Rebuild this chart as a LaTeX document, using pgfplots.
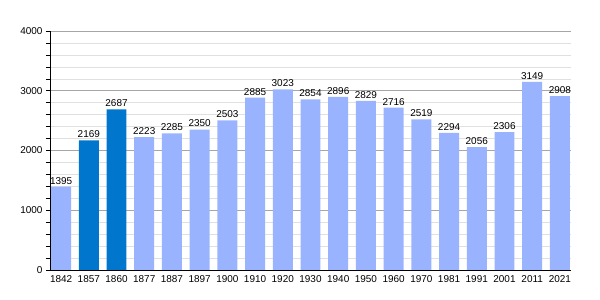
\documentclass[border=0pt]{standalone}
\usepackage{pgfplots}
\pgfplotsset{compat=1.18}
\usepackage{fontspec}
\setmainfont{Liberation Sans}
\definecolor{lightbar}{HTML}{99B3FF}
\definecolor{darkbar}{HTML}{0077CC}
\begin{document}
\begin{tikzpicture}
\path (-50bp,-30bp) rectangle (550bp,270bp);
\begin{axis}[
  scale only axis,
  width=521bp, height=239bp,
  xmin=-0.4, xmax=18.4,
  ymin=0, ymax=4000,
  ytick={0,1000,2000,3000,4000},
  minor y tick num=4,
  xtick={0,...,18},
  xticklabels={1842,1857,1860,1877,1887,1897,1900,1910,1920,1930,1940,1950,1960,1970,1981,1991,2001,2011,2021},
  x tick style={draw=none},
  y tick style={black, line width=0.6pt},
  tick align=outside,
  major tick length=4bp, minor tick length=4bp,
  axis x line*=bottom, axis y line*=left,
  axis line style={-, black, line width=0.8pt},
  ymajorgrids, yminorgrids,
  major grid style={color=black!35, line width=0.6pt},
  minor grid style={color=black!12, line width=0.6pt},
  tick label style={font=\fontsize{10}{12}\selectfont},
  xticklabel style={yshift=2bp},
  /pgf/number format/assume math mode=true,
  /pgf/number format/1000 sep={},
  scaled y ticks=false,
  ybar, bar width=0.72, bar shift=0pt,
  nodes near coords,
  nodes near coords style={font=\fontsize{10}{12}\selectfont, black, /pgf/number format/1000 sep={}, yshift=-1bp},
]
\addplot[fill=lightbar, draw=none] coordinates {
(0,1395) (3,2223) (4,2285) (5,2350) (6,2503) (7,2885) (8,3023) (9,2854) (10,2896) (11,2829) (12,2716) (13,2519) (14,2294) (15,2056) (16,2306) (17,3149) (18,2908)};
\addplot[fill=darkbar, draw=none] coordinates {(1,2169) (2,2687)};
\end{axis}
\end{tikzpicture}
\end{document}
